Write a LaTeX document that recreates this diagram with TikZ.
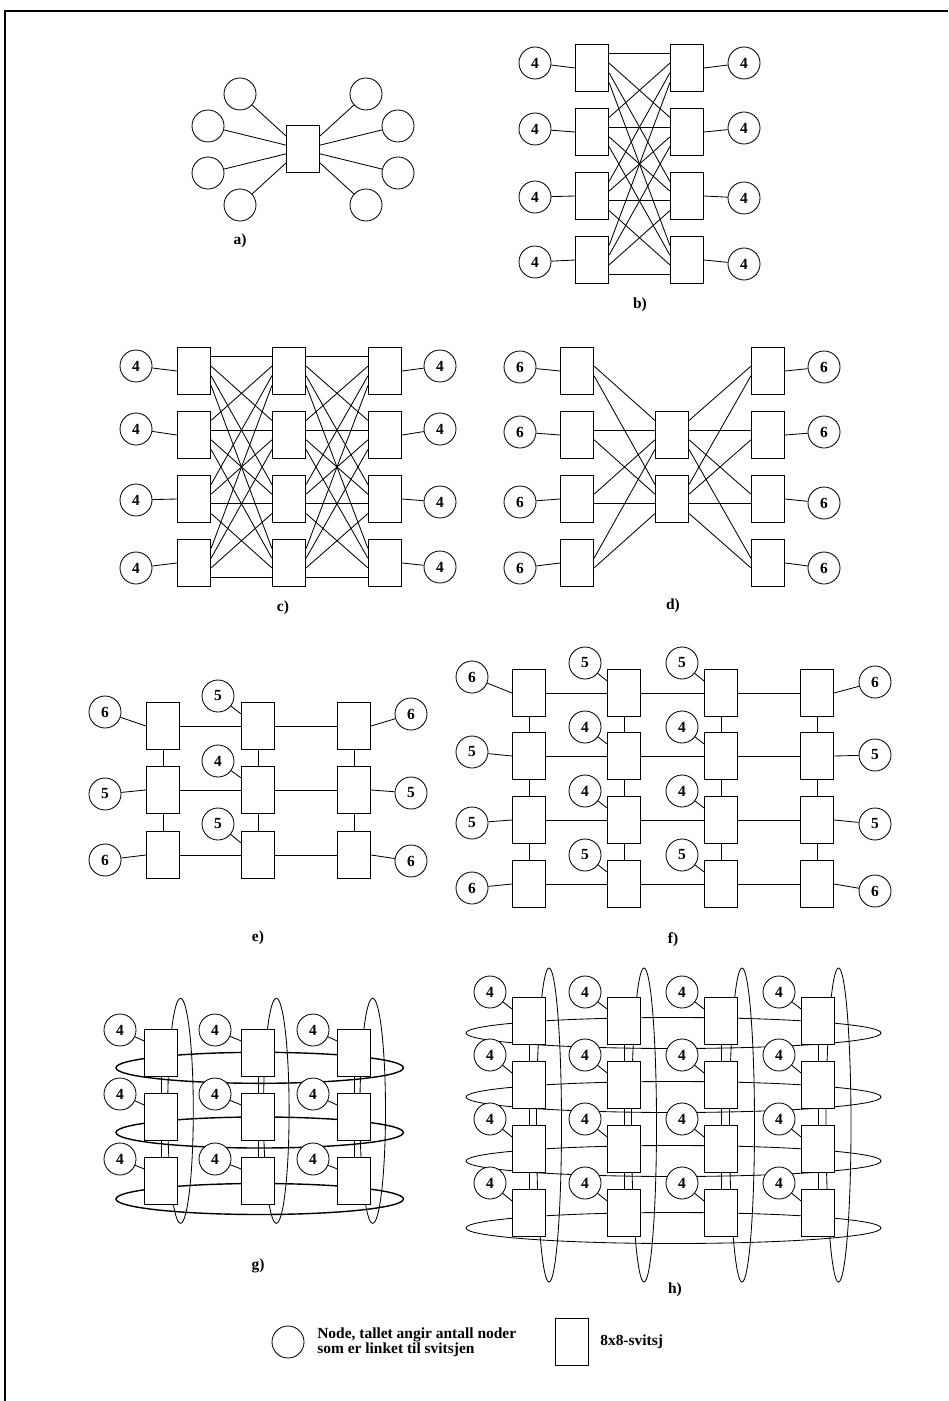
\documentclass[tikz,border=0pt]{standalone}
\usepackage{fontspec}
\setmainfont{Liberation Serif}
\usetikzlibrary{calc}
\tikzset{
  sw/.style={draw,line width=1pt,fill=white,minimum width=8.2mm,minimum height=11.8mm,inner sep=0pt},
  nd/.style={draw,circle,line width=0.6pt,fill=white,minimum size=8mm,inner sep=0pt},
  lnk/.style={line width=0.6pt},
  ring/.style={line width=0.6pt},
  lbl/.style={inner sep=0pt},
}
\begin{document}
\begin{tikzpicture}[x=0.25mm,y=-0.25mm,font={\fontsize{11}{13}\selectfont\bfseries}]
  \useasboundingbox (0,0) rectangle (948,1401);
  % frame, open at right and bottom
  \draw[line width=1.4pt] (5,1401) -- (5,11) -- (948,11);
  % a) one switch, eight nodes
  \node[sw] (a0) at (303,149) {};
  \foreach \n/\x/\y in {1/240/94,2/208/126,3/208/173,4/240/205}{
    \node[nd] (al\n) at (\x,\y) {};
    \node[nd] (ar\n) at ({606-\x},\y) {};
  }
  \foreach \n/\f in {1/0.23,2/0.42,3/0.6,4/0.79}{
    \draw[lnk] (al\n) -- ($(a0.north west)!\f!(a0.south west)$);
    \draw[lnk] (ar\n) -- ($(a0.north east)!\f!(a0.south east)$);
  }
  \node[lbl] (la) at (240,241) {a)};
  % b) two columns, all to all
  \foreach \i/\y in {1/68,2/132,3/196,4/260}{
    \node[sw] (bl\i) at (592,\y) {};
    \node[sw] (br\i) at (687,\y) {};
  }
  \foreach \i/\yl/\yr in {1/63/63,2/129/128,3/197/198,4/262/264}{
    \node[nd] (bcl\i) at (535,\yl) {4};
    \node[nd] (bcr\i) at (744,\yr) {4};
    \draw[lnk] (bcl\i) -- (bl\i.west);
    \draw[lnk] (bcr\i) -- (br\i.east);
  }
  \foreach \i/\pa in {1/0.2,2/0.4,3/0.6,4/0.8}
    \foreach \j/\pb in {1/0.2,2/0.4,3/0.6,4/0.8}
      \draw[lnk] ($(bl\i.north east)!\pb!(bl\i.south east)$) -- ($(br\j.north west)!\pa!(br\j.south west)$);
  \node[lbl] (lb) at (640,305) {b)};
  % c) three columns
  \foreach \i/\y in {1/371,2/435,3/499,4/563}{
    \node[sw] (ca\i) at (194,\y) {};
    \node[sw] (cb\i) at (289,\y) {};
    \node[sw] (cc\i) at (385,\y) {};
  }
  \foreach \i/\yl/\yr in {1/366/366,2/429/429,3/500/502,4/568/567}{
    \node[nd] (ccl\i) at (136,\yl) {4};
    \node[nd] (ccr\i) at (440,\yr) {4};
    \draw[lnk] (ccl\i) -- (ca\i.west);
    \draw[lnk] (ccr\i) -- (cc\i.east);
  }
  \foreach \i/\pa in {1/0.2,2/0.4,3/0.6,4/0.8}
    \foreach \j/\pb in {1/0.2,2/0.4,3/0.6,4/0.8}{
      \draw[lnk] ($(ca\i.north east)!\pb!(ca\i.south east)$) -- ($(cb\j.north west)!\pa!(cb\j.south west)$);
      \draw[lnk] ($(cb\i.north east)!\pb!(cb\i.south east)$) -- ($(cc\j.north west)!\pa!(cc\j.south west)$);
    }
  \node[lbl] (lc) at (283,608) {c)};
  % d) two middle switches
  \foreach \i/\y in {1/371,2/435,3/499,4/563}{
    \node[sw] (dl\i) at (577,\y) {};
    \node[sw] (dr\i) at (768,\y) {};
  }
  \node[sw] (dm1) at (672,435) {};
  \node[sw] (dm2) at (672,499) {};
  \foreach \i/\yl/\yr in {1/367/367,2/432/432,3/502/503,4/568/568}{
    \node[nd] (dcl\i) at (520,\yl) {6};
    \node[nd] (dcr\i) at (824,\yr) {6};
    \draw[lnk] (dcl\i) -- (dl\i.west);
    \draw[lnk] (dcr\i) -- (dr\i.east);
  }
  \foreach \i/\pa in {1/0.2,2/0.4,3/0.6,4/0.8}
    \foreach \m/\pm in {1/0.4,2/0.6}{
      \draw[lnk] ($(dl\i.north east)!\pm!(dl\i.south east)$) -- ($(dm\m.north west)!\pa!(dm\m.south west)$);
      \draw[lnk] ($(dr\i.north west)!\pm!(dr\i.south west)$) -- ($(dm\m.north east)!\pa!(dm\m.south east)$);
    }
  \node[lbl] (ld) at (673,606) {d)};
  % e) 3x3 mesh
  \foreach \c/\x in {1/163,2/258,3/354}
    \foreach \r/\y in {1/726,2/790,3/855}
      \node[sw] (e\c\r) at (\x,\y) {};
  \foreach \r/\yl/\yr/\ym/\nl/\nm in {1/712/714/696/6/5,2/794/793/761/5/4,3/860/861/824/6/5}{
    \node[nd] (ecl\r) at (105,\yl) {\nl};
    \node[nd] (ecr\r) at (411,\yr) {\nl};
    \node[nd] (ecm\r) at (218,\ym) {\nm};
    \draw[lnk] (ecl\r) -- (e1\r.west);
    \draw[lnk] (ecr\r) -- (e3\r.east);
    \draw[lnk] (ecm\r) -- ($(e2\r.north west)!0.25!(e2\r.south west)$);
    \draw[lnk] (e1\r.east) -- (e2\r.west);
    \draw[lnk] (e2\r.east) -- (e3\r.west);
  }
  \foreach \c in {1,2,3}
    \foreach \r/\s in {1/2,2/3}
      \draw[lnk] (e\c\r.south) -- (e\c\s.north);
  \node[lbl] (le) at (258,938) {e)};
  % f) 4x4 mesh
  \foreach \c/\x in {1/529,2/624,3/721,4/817}
    \foreach \r/\y in {1/693,2/756,3/820,4/884}
      \node[sw] (f\c\r) at (\x,\y) {};
  \foreach \r/\yl/\yr/\ym/\nl/\nm in {1/677/682/663/6/5,2/752/755/727/5/4,3/823/824/791/5/4,4/888/891/855/6/5}{
    \node[nd] (fcl\r) at (472,\yl) {\nl};
    \node[nd] (fcr\r) at (875,\yr) {\nl};
    \node[nd] (fcm\r) at (585,\ym) {\nm};
    \node[nd] (fcn\r) at (682,\ym) {\nm};
    \draw[lnk] (fcl\r) -- (f1\r.west);
    \draw[lnk] (fcr\r) -- (f4\r.east);
    \draw[lnk] (fcm\r) -- ($(f2\r.north west)!0.25!(f2\r.south west)$);
    \draw[lnk] (fcn\r) -- ($(f3\r.north west)!0.25!(f3\r.south west)$);
    \draw[lnk] (f1\r.east) -- (f2\r.west);
    \draw[lnk] (f2\r.east) -- (f3\r.west);
    \draw[lnk] (f3\r.east) -- (f4\r.west);
  }
  \foreach \c in {1,2,3,4}
    \foreach \r/\s in {1/2,2/3,3/4}
      \draw[lnk] (f\c\r.south) -- (f\c\s.north);
  \node[lbl] (lf) at (673,940) {f)};
  % g) 3x3 torus, rings behind the switches
  \foreach \x in {180.5,276.3,372.7}
    \draw[ring] (\x,1110.8) ellipse [x radius=12.8,y radius=112.5];
  \foreach \y in {1067.8,1132.5,1199}
    \draw[ring,line width=1pt] (259.7,\y) ellipse [x radius=143.7,y radius=15.5];
  \foreach \c/\x/\xc in {1/161/120,2/258/215,3/354/313}
    \foreach \r/\y/\yc in {1/1053/1030,2/1117/1094,3/1181/1159}{
      \node[sw] (g\c\r) at (\x,\y) {};
      \node[nd] (gc\c\r) at (\xc,\yc) {4};
      \draw[lnk] (gc\c\r) -- ($(g\c\r.north west)!0.25!(g\c\r.south west)$);
    }
  \foreach \c in {1,2,3}
    \foreach \r/\s in {1/2,2/3}
      \draw[lnk] (g\c\r.south) -- (g\c\s.north);
  \node[lbl] (lg) at (258,1266) {g)};
  % h) 4x4 torus
  \foreach \x in {549,644,742,838.5}
    \draw[ring] (\x,1125) ellipse [x radius=12.5,y radius=157];
  \foreach \y in {1033,1097,1161,1228}
    \draw[ring] (673.5,\y) ellipse [x radius=207.5,y radius=15.5];
  \foreach \c/\x/\xc in {1/529/490,2/624/585,3/721/682,4/818/779}
    \foreach \r/\y/\yc in {1/1021/992,2/1085/1055,3/1149/1119,4/1213/1183}{
      \node[sw] (h\c\r) at (\x,\y) {};
      \node[nd] (hc\c\r) at (\xc,\yc) {4};
      \draw[lnk] (hc\c\r) -- ($(h\c\r.north west)!0.25!(h\c\r.south west)$);
    }
  \foreach \c in {1,2,3,4}
    \foreach \r/\s in {1/2,2/3,3/4}
      \draw[lnk] (h\c\r.south) -- (h\c\s.north);
  \node[lbl] (lh) at (675,1290) {h)};
  % legend
  \node[nd] (kn) at (288,1342) {};
  \node[lbl,anchor=west,align=left,font={\fontsize{11}{10.7}\selectfont\bfseries}] (kt) at (317,1342) {Node, tallet angir antall noder\\som er linket til svitsjen};
  \node[sw] (ks) at (572,1342) {};
  \node[lbl,anchor=west] (kst) at (600,1342) {8x8-svitsj};
\end{tikzpicture}
\end{document}
